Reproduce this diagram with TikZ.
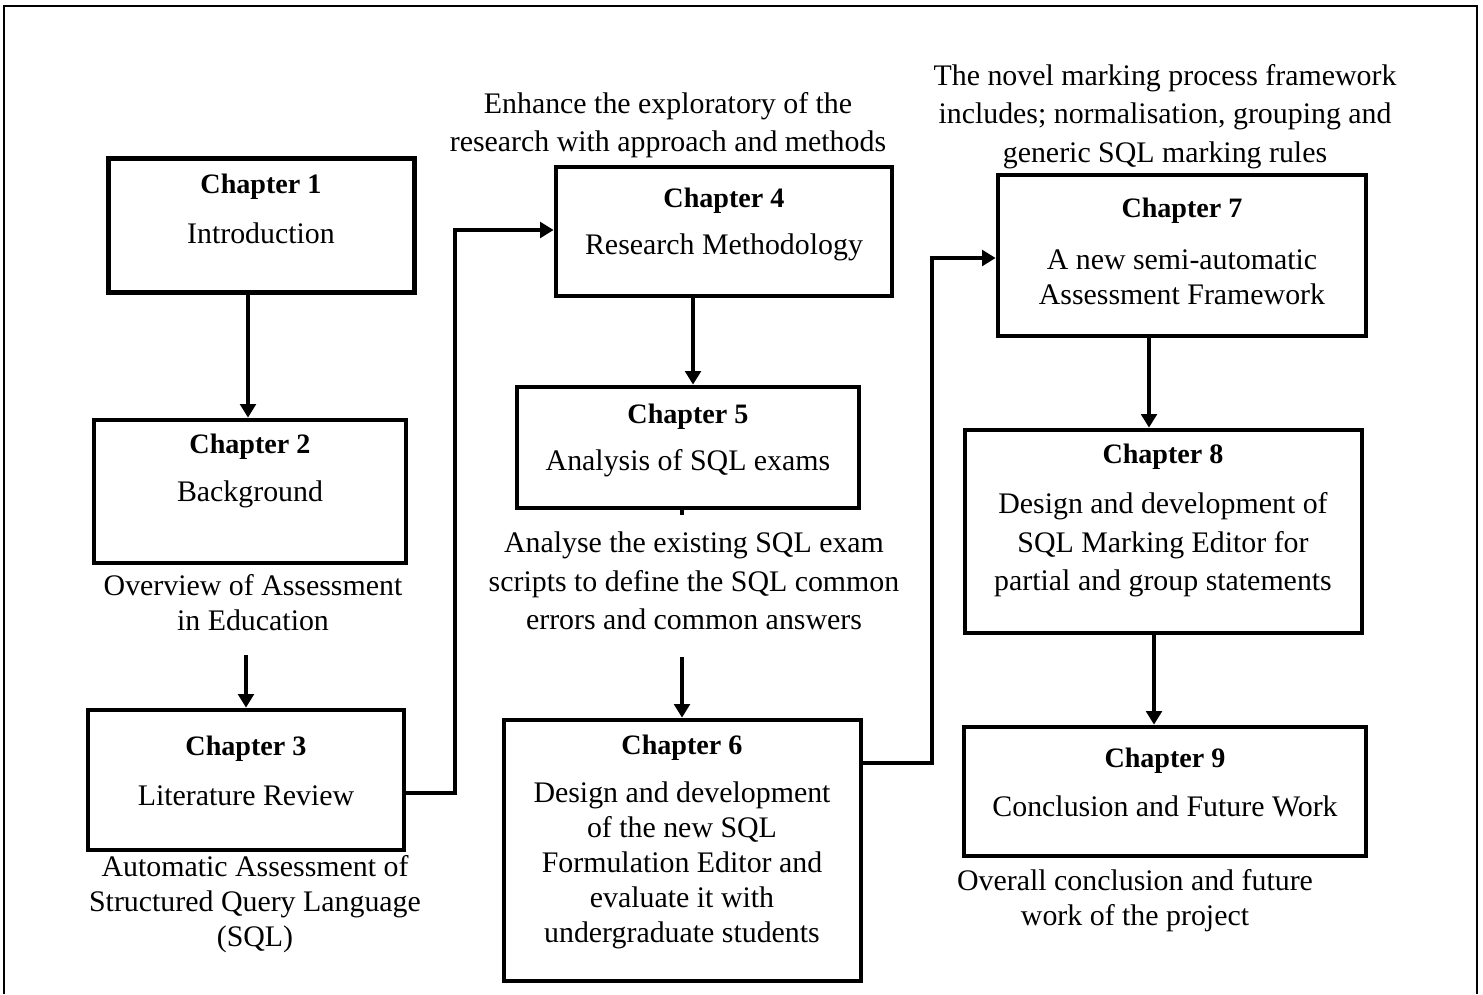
\documentclass[tikz,border=0pt]{standalone}
\usepackage{fontspec}
\setmainfont{Liberation Serif}
\usetikzlibrary{arrows.meta,calc}

\begin{document}
\begin{tikzpicture}[x=0.02cm,y=-0.02cm,
  chbox/.style={draw, line width=2.7pt, inner sep=0pt, minimum width=#1},
  conn/.style={line width=2.2pt},
  arr/.style={conn, -{Triangle[length=0.27cm,width=0.31cm]}},
  ttl/.style={font=\fontsize{16}{19}\selectfont\bfseries, inner sep=0pt},
  txt/.style={font=\fontsize{17}{22}\selectfont, align=center, inner sep=0pt},
  txtn/.style={font=\fontsize{17}{20}\selectfont, align=center, inner sep=0pt}]

\useasboundingbox (0,0) rectangle (1483,994);

% outer frame (open at the bottom edge)
\draw[line width=1pt] (4,994) -- (4,6) -- (1477,6) -- (1477,994);

% chapter boxes
\node[chbox=6.12cm, minimum height=2.68cm] (c1) at (261.5,225.5) {};
\node[chbox=6.24cm, minimum height=2.86cm] (c2) at (250,491.5) {};
\node[chbox=6.32cm, minimum height=2.80cm] (c3) at (246,780) {};
\node[chbox=6.72cm, minimum height=2.58cm] (c4) at (724,231.5) {};
\node[chbox=6.84cm, minimum height=2.42cm] (c5) at (688,447.5) {};
\node[chbox=7.14cm, minimum height=5.22cm] (c6) at (682.5,850.5) {};
\node[chbox=7.36cm, minimum height=3.22cm] (c7) at (1182,255.5) {};
\node[chbox=7.94cm, minimum height=4.06cm] (c8) at (1163.5,531.5) {};
\node[chbox=8.04cm, minimum height=2.58cm] (c9) at (1165,791.5) {};

% box texts
\node[ttl] (t1) at (261,187) {Chapter 1};
\node[txt] (d1) at (261,233) {Introduction};
\node[ttl] (t2) at (250,447) {Chapter 2};
\node[txt] (d2) at (250,494) {Background};
\node[ttl] (t3) at (246,749) {Chapter 3};
\node[txt] (d3) at (246,796) {Literature Review};
\node[ttl] (t4) at (724,201) {Chapter 4};
\node[txt] (d4) at (724,247) {Research Methodology};
\node[ttl] (t5) at (688,417) {Chapter 5};
\node[txt] (d5) at (688,463) {Analysis of SQL exams};
\node[ttl] (t6) at (682,748) {Chapter 6};
\node[txtn] (d6) at (682,865.5) {Design and development\\of the new SQL\\Formulation Editor and\\evaluate it with\\undergraduate students};
\node[ttl] (t7) at (1182,211) {Chapter 7};
\node[txtn] (d7) at (1182,277.5) {A new semi-automatic\\Assessment Framework};
\node[ttl] (t8) at (1163,457) {Chapter 8};
\node[txt] (d8) at (1163,545) {Design and development of\\SQL Marking Editor for\\partial and group statements};
\node[ttl] (t9) at (1165,761) {Chapter 9};
\node[txt] (d9) at (1165,806) {Conclusion and Future Work};

% captions
\node[txt] (n4) at (668,125) {Enhance the exploratory of the\\research with approach and methods};
\node[txt] (n7) at (1165,116.5) {The novel marking process framework\\includes; normalisation, grouping and\\generic SQL marking rules};
\node[txtn] (n2) at (253,602.5) {Overview of Assessment\\in Education};
\node[txtn] (n3) at (255,904) {Automatic Assessment of\\Structured Query Language\\(SQL)};
\node[txt] (n5) at (694,581) {Analyse the existing SQL exam\\scripts to define the SQL common\\errors and common answers};
\node[txtn] (n9) at (1135,901) {Overall conclusion and future\\work of the project};

% connectors
\coordinate (s23) at (246,655);
\coordinate (s56) at (682,657);
\coordinate (j3a) at (455,793);
\coordinate (j3b) at (455,230);
\coordinate (j6a) at (932,763);
\coordinate (j6b) at (932,258);

\draw[arr] (c1.south -| 248,0) -- (c2.north -| 248,0);
\draw[arr] (s23) -- (s23 |- c3.north);
\draw[arr] (c3.east |- j3a) -- (j3a) -- (j3b) -- (c4.west |- j3b);
\draw[arr] (c4.south -| 693,0) -- (c5.north -| 693,0);
\draw[conn] (c5.south -| 682,0) -- ++(0,5);
\draw[arr] (s56) -- (s56 |- c6.north);
\draw[arr] (c6.east |- j6a) -- (j6a) -- (j6b) -- (c7.west |- j6b);
\draw[arr] (c7.south -| 1149,0) -- (c8.north -| 1149,0);
\draw[arr] (c8.south -| 1154,0) -- (c9.north -| 1154,0);

\end{tikzpicture}
\end{document}
